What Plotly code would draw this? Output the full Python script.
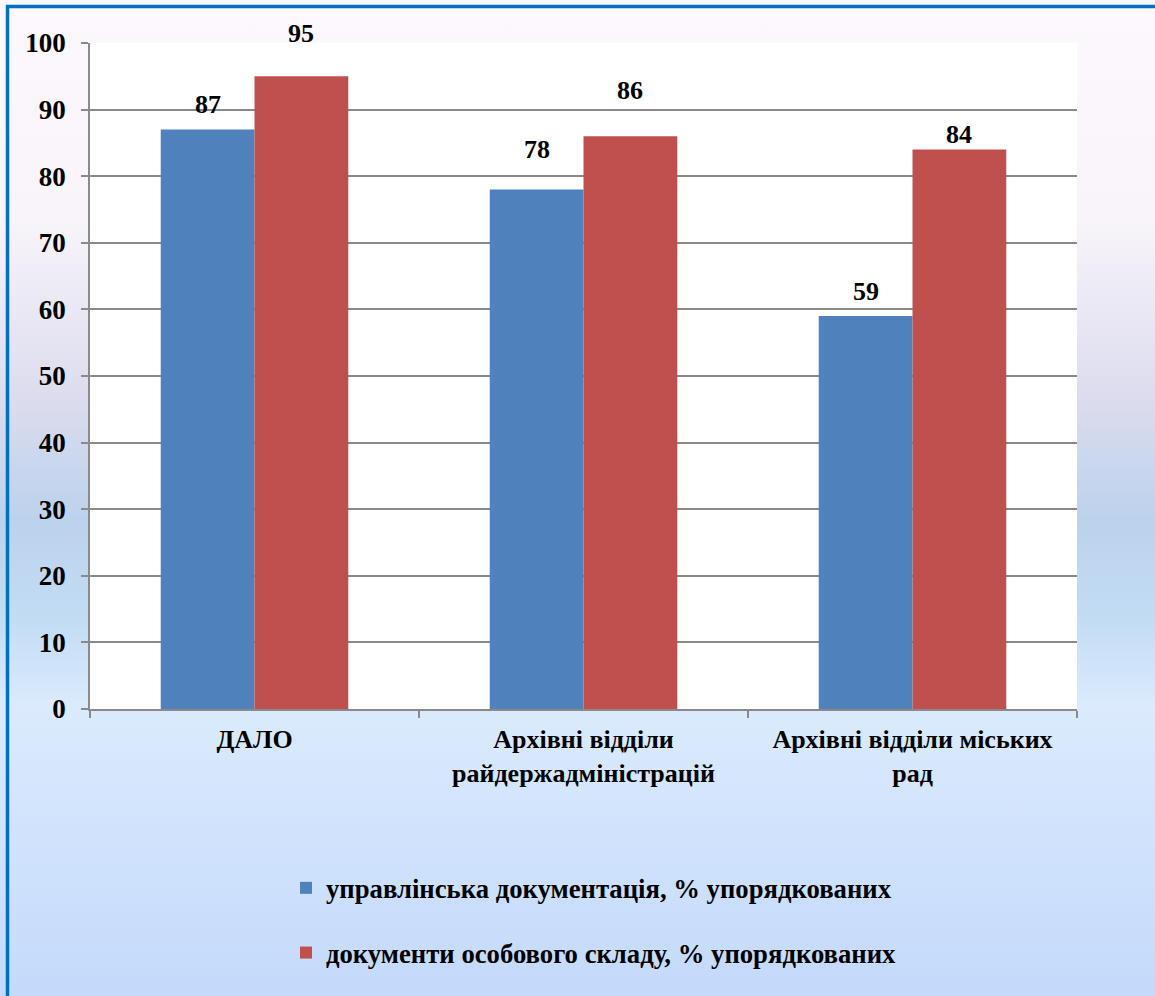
import base64
import plotly.graph_objects as go

categories = ["ДАЛО", "Архівні відділи<br>райдержадміністрацій", "Архівні відділи міських<br>рад"]
series_names = ["управлінська документація, % упорядкованих",
                "документи особового складу, % упорядкованих"]
management_docs = [87, 78, 59]
personnel_docs = [95, 86, 84]
y_ticks = [0, 10, 20, 30, 40, 50, 60, 70, 80, 90, 100]

# style: the source places its value labels by hand, at these pixel distances
# between the top of each bar and the centre of its label
label_lift_px = [[25, 40, 25], [43, 46, 15]]

W, H = 1155, 996
ML, MR, MT, MB = 90, 78, 43, 287
PW, PH = W - ML - MR, H - MT - MB

FONT = "Liberation Serif"
BLUE = "#4f81bd"
RED = "#c0504d"
GRID = "#8a8a8a"
BARGAP = 0.43


def bold(size):
    return dict(family=FONT, size=size, color="black", weight="bold")


# background gradient as an svg image
stops = [(0.0, "#fdf8fd"), (0.22, "#f8f4fa"), (0.40, "#dcdcee"), (0.52, "#bcd2ec"),
         (0.62, "#c2dcf4"), (0.71, "#dbebfd"), (1.0, "#c4d9fb")]
stop_xml = "".join(f'<stop offset="{o}" stop-color="{c}"/>' for o, c in stops)
svg = (f'<svg xmlns="http://www.w3.org/2000/svg" width="100" height="100" preserveAspectRatio="none">'
       f'<defs><linearGradient id="g" x1="0" y1="0" x2="0" y2="1">{stop_xml}</linearGradient></defs>'
       f'<rect width="100" height="100" fill="url(#g)"/></svg>')
bg_src = "data:image/svg+xml;base64," + base64.b64encode(svg.encode()).decode()

fig = go.Figure()
colors = [BLUE, RED]
values = [management_docs, personnel_docs]
for i, (name, vals) in enumerate(zip(series_names, values)):
    fig.add_trace(go.Bar(
        x=categories, y=vals, name=name, marker=dict(color=colors[i], line=dict(width=0)),
        offsetgroup=str(i), legendgroup=str(i), hoverinfo="skip",
    ))

# value labels: centred over each bar of the group (offset derived from bargap)
half_bar = (1 - BARGAP) / 4
annotations = []
for s, vals in enumerate(values):
    for c, v in enumerate(vals):
        annotations.append(dict(
            x=c + (-half_bar if s == 0 else half_bar), y=v, xref="x", yref="y",
            text=str(v), showarrow=False, yanchor="middle", xanchor="center",
            yshift=label_lift_px[s][c], font=bold(26),
        ))

fig.update_layout(
    width=W, height=H,
    margin=dict(l=ML, r=MR, t=MT, b=MB, pad=0),
    paper_bgcolor="#e4ecf8", plot_bgcolor="rgba(0,0,0,0)",
    barmode="group", bargap=BARGAP, bargroupgap=0,
    font=bold(26),
    showlegend=True,
    legend=dict(orientation="v", x=(286 - ML) / PW, xanchor="left",
                y=(709 - 920.5) / PH, yanchor="middle",
                bgcolor="rgba(0,0,0,0)", tracegroupgap=27, font=bold(26.7)),
    annotations=annotations,
    images=[dict(source=bg_src, xref="paper", yref="paper",
                 x=-ML / PW, y=1 + MT / PH, sizex=W / PW, sizey=H / PH,
                 xanchor="left", yanchor="top", sizing="stretch", layer="below")],
    shapes=[
        dict(type="rect", xref="x domain", yref="y domain", x0=0, x1=1, y0=0, y1=1,
             fillcolor="white", line=dict(width=0), layer="below"),
        dict(type="line", xref="paper", yref="paper", x0=-(ML - 6) / PW, x1=(W - ML) / PW,
             y0=1 + (MT - 6.5) / PH, y1=1 + (MT - 6.5) / PH,
             line=dict(color="#0070c0", width=3.5), layer="above"),
        dict(type="line", xref="paper", yref="paper", x0=-(ML - 7.5) / PW, x1=-(ML - 7.5) / PW,
             y0=-MB / PH, y1=1 + (MT - 5) / PH,
             line=dict(color="#0070c0", width=3.5), layer="above"),
    ],
)
fig.update_xaxes(
    type="category", showline=True, linecolor=GRID, linewidth=1.5,
    ticks="outside", tickson="boundaries", ticklen=7, tickcolor=GRID, tickwidth=1.5,
    showgrid=False, tickfont=bold(26), ticklabelstandoff=6,
)
fig.update_yaxes(
    range=[0, 100], tickvals=y_ticks, showline=True, linecolor=GRID, linewidth=1.5,
    ticks="outside", ticklen=7, tickcolor=GRID, tickwidth=1.5,
    showgrid=True, gridcolor=GRID, gridwidth=1.5, zeroline=False,
    ticklabelstandoff=10, tickfont=bold(27),
)

fig.write_html("out.html", config={"displayModeBar": False},
               post_script="document.body.style.margin='0';document.body.style.overflow='hidden';")
